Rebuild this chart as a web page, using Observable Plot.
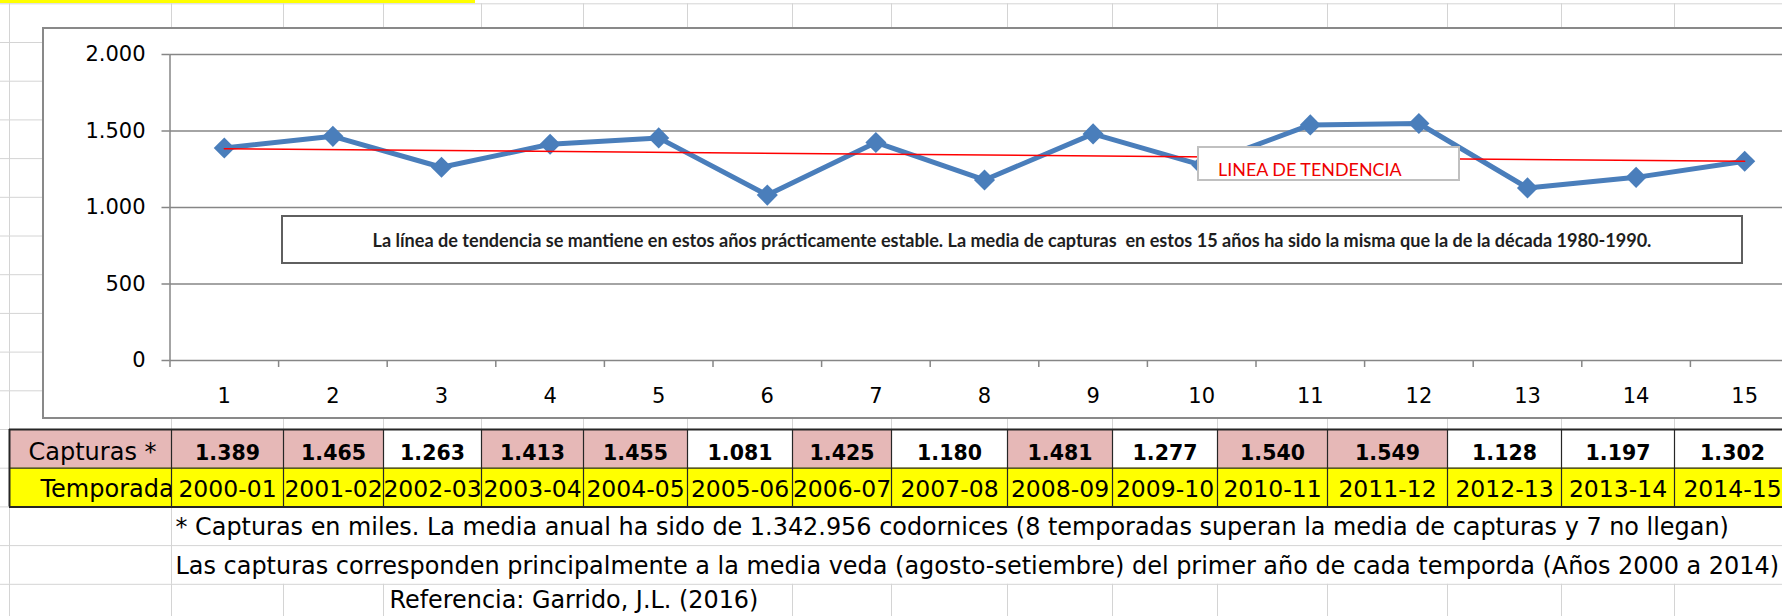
<!DOCTYPE html>
<html lang="es">
<head>
<meta charset="utf-8">
<title>Capturas de codorniz 2000-2015</title>
<script src="https://cdn.jsdelivr.net/npm/d3@7"></script>
<script src="https://cdn.jsdelivr.net/npm/@observablehq/plot@0.6"></script>
<style>
  html, body { margin: 0; padding: 0; background: #fff; }
  #page { position: relative; width: 1782px; height: 616px; overflow: hidden; background: #fff; }
  #page svg { max-width: none !important; display: block; }
  #bg { position: absolute; left: 0; top: 0; }
  #chartbox { position: absolute; left: 42px; top: 27px; width: 1780px; height: 392px; box-sizing: border-box; border: 2px solid #898989; background: #fff; }
  #chart { position: absolute; left: 0; top: 0; }
  .note { position: absolute; box-sizing: border-box; background: #fff; white-space: pre; }
  #note-main { left: 281px; top: 215px; width: 1462px; height: 49px; border: 2px solid #5f5f5f; font-family: Lato, sans-serif; font-weight: 700; color: #1e1e1e; display: flex; align-items: center; justify-content: center; }
  #note-trend { left: 1197px; top: 146px; width: 263px; height: 35px; border: 2px solid #c0c0c0; font-family: Lato, sans-serif; color: #ee0000; padding-left: 19px; padding-top: 11px; line-height: 20px; }
</style>
</head>
<body>
<div id="page">
  <div id="bg"></div>
  <div id="chartbox"><div id="chart"></div></div>
  <div class="note" id="note-trend"></div>
  <div class="note" id="note-main"></div>
</div>
<script>
// ---------------- DATA ----------------
const categorias = [1, 2, 3, 4, 5, 6, 7, 8, 9, 10, 11, 12, 13, 14, 15];
const capturas = [1389, 1465, 1263, 1413, 1455, 1081, 1425, 1180, 1481, 1277, 1540, 1549, 1128, 1197, 1302];
const temporadas = ["2000-01", "2001-02", "2002-03", "2003-04", "2004-05", "2005-06", "2006-07", "2007-08",
                    "2008-09", "2009-10", "2010-11", "2011-12", "2012-13", "2013-14", "2014-15"];
const yTicks = [0, 500, 1000, 1500, 2000];
const etiquetasFilas = ["Capturas *", "Temporada"];
const notas = [
  "* Capturas en miles. La media anual ha sido de 1.342.956 codornices (8 temporadas superan la media de capturas y 7 no llegan)",
  "Las capturas corresponden principalmente a la media veda (agosto-setiembre) del primer año de cada temporda (Años 2000 a 2014)",
  "Referencia: Garrido, J.L. (2016)"
];
const textoPrincipal = "La línea de tendencia se mantiene en estos años prácticamente estable. La media de capturas  en estos 15 años ha sido la misma que la de la década 1980-1990.";
const textoTendencia = "LINEA DE TENDENCIA";

// ---------------- LAYOUT ----------------
const W = 1782, H = 616;
const colEdges = [9, 171, 283, 383, 481, 583, 687, 792, 891, 1007, 1112, 1217, 1327, 1447, 1561, 1674, 1790];
const rowTop = 3.3, rowH = 38.7, nRows = 17;
const rowLines = d3.range(nRows).map(k => rowTop + k * rowH);
const gridColor = "#d4d4d4";
const SHEET_FONT = "'DejaVu Sans', sans-serif";

const fmtMiles = d => d3.format(",")(d).replace(/,/g, ".");
const media = d3.mean(capturas);

function fitSize(text, family, weight, target) {
  const ctx = document.createElement("canvas").getContext("2d");
  ctx.font = `${weight} 100px ${family}`;
  return 100 * target / ctx.measureText(text).width;
}

// spreadsheet gridline segments (hidden where overflowing text covers them)
const vSegs = [];
for (let r = 0; r < nRows - 1; r++) {
  for (const x of colEdges) {
    if ((r === 13 || r === 14) && x > 172) continue;
    if (r === 15 && x > 385 && x < 760) continue;
    vSegs.push({x, y1: rowLines[r], y2: rowLines[r + 1]});
  }
}

const cells = capturas.map((v, i) => ({x1: colEdges[i + 1], x2: colEdges[i + 2], v, t: temporadas[i], alta: v > media}));

const fsNota0 = fitSize(notas[0], SHEET_FONT, "normal", 1554);
const fsNota1 = fitSize(notas[1], SHEET_FONT, "normal", 1605);
const fsNota2 = fitSize(notas[2], SHEET_FONT, "normal", 369);

const bg = Plot.plot({
  width: W, height: H, margin: 0,
  x: {type: "identity", axis: null},
  y: {type: "identity", axis: null},
  color: {type: "identity"},
  style: {background: "#fff", maxWidth: "none", fontFamily: SHEET_FONT, color: "#000"},
  marks: [
    Plot.ruleY(rowLines, {x1: 0, x2: W, stroke: gridColor, strokeWidth: 1}),
    Plot.ruleX(vSegs, {x: "x", y1: "y1", y2: "y2", stroke: gridColor, strokeWidth: 1}),
    Plot.rect([0], {x1: 0, x2: 475, y1: 0, y2: 3, fill: "#ffff00"}),
    // row label cells
    Plot.rect([0], {x1: colEdges[0], x2: colEdges[1], y1: rowLines[11], y2: rowLines[12], fill: "#e6b8b7"}),
    Plot.rect([0], {x1: colEdges[0], x2: colEdges[1], y1: rowLines[12], y2: rowLines[13], fill: "#ffff00"}),
    Plot.text([etiquetasFilas[0]], {x: 92, y: 451.5, text: d => d, fontSize: 24, textAnchor: "middle"}),
    Plot.text([etiquetasFilas[1]], {x: 40, y: 489, text: d => d, fontSize: 24, textAnchor: "start"}),
    // value cells
    Plot.rect(cells, {x1: "x1", x2: "x2", y1: rowLines[11], y2: rowLines[12], fill: d => d.alta ? "#e6b8b7" : "#ffffff"}),
    Plot.rect(cells, {x1: "x1", x2: "x2", y1: rowLines[12], y2: rowLines[13], fill: "#ffff00"}),
    Plot.text(cells, {x: d => (d.x1 + d.x2) / 2, y: 452.5, text: d => fmtMiles(d.v), fontSize: 20.5, fontWeight: "bold"}),
    Plot.text(cells, {x: d => (d.x1 + d.x2) / 2, y: 489, text: "t", fontSize: 23.5}),
    // table borders
    Plot.ruleY([rowLines[11], rowLines[13]], {x1: colEdges[0], x2: W, stroke: "#262626", strokeWidth: 2}),
    Plot.ruleY([rowLines[12]], {x1: colEdges[0], x2: W, stroke: "#262626", strokeWidth: 1.2}),
    Plot.ruleX(colEdges.slice(1, -1), {y1: rowLines[11], y2: rowLines[13], stroke: "#262626", strokeWidth: 1.2}),
    Plot.ruleX([colEdges[0]], {y1: rowLines[11], y2: rowLines[13], stroke: "#262626", strokeWidth: 2}),
    // notes
    Plot.text([notas[0]], {x: 175, y: 527, text: d => d, textAnchor: "start", fontSize: fsNota0}),
    Plot.text([notas[1]], {x: 175, y: 565.5, text: d => d, textAnchor: "start", fontSize: fsNota1}),
    Plot.text([notas[2]], {x: 389, y: 600, text: d => d, textAnchor: "start", fontSize: fsNota2})
  ]
});
document.getElementById("bg").appendChild(bg);

// ---------------- CHART ----------------
const data = categorias.map((c, i) => ({x: c, y: capturas[i]}));
const halfTicks = categorias.map(c => c - 0.5).concat([categorias[categorias.length - 1] + 0.5]);
const axisColor = "#868686";
const serieColor = "#4a7ebb";

const chart = Plot.plot({
  width: 1770, height: 389,
  marginLeft: 125.5, marginRight: 15.5, marginTop: 25, marginBottom: 58,
  style: {background: "transparent", fontFamily: SHEET_FONT, color: "#000", maxWidth: "none", overflow: "visible"},
  x: {type: "linear", domain: [0.5, 15.5]},
  y: {type: "linear", domain: [0, 2000]},
  marks: [
    Plot.ruleY(yTicks, {x1: 0.5, x2: 15.5, stroke: axisColor, strokeWidth: 1.5}),
    Plot.ruleX([0.5], {y1: 0, y2: 2000, stroke: axisColor, strokeWidth: 1.5}),
    Plot.axisY({ticks: yTicks, tickFormat: fmtMiles, tickSize: 8, tickPadding: 16.5, fontSize: 21, stroke: axisColor, strokeWidth: 1.5, fill: "#000", label: null}),
    Plot.axisX({ticks: halfTicks, tickSize: 7, tickFormat: () => "", stroke: axisColor, strokeWidth: 1.5, label: null}),
    Plot.axisX({ticks: categorias, tickSize: 0, tickPadding: 27.5, fontSize: 21, fill: "#000", label: null}),
    Plot.line(data, {x: "x", y: "y", stroke: serieColor, strokeWidth: 5, strokeLinejoin: "round"}),
    Plot.dot(data, {x: "x", y: "y", symbol: "diamond2", r: 9.5, fill: serieColor}),
    Plot.linearRegressionY(data, {x: "x", y: "y", stroke: "#ff0000", strokeWidth: 1.5, ci: 0})
  ]
});
document.getElementById("chart").appendChild(chart);

// ---------------- ANNOTATIONS ----------------
const main = document.getElementById("note-main");
main.textContent = textoPrincipal;
main.style.fontSize = fitSize(textoPrincipal, "Lato", "bold", 1280) + "px";
const trend = document.getElementById("note-trend");
trend.textContent = textoTendencia;
trend.style.fontSize = fitSize(textoTendencia, "Lato", "normal", 185) + "px";
</script>
</body>
</html>
